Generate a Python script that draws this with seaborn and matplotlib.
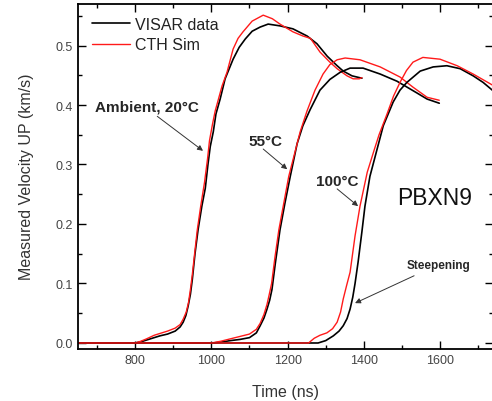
import matplotlib
matplotlib.use("Agg")
import pandas as pd
import seaborn as sns
from matplotlib import pyplot as plt
from matplotlib.ticker import MultipleLocator

# Ambient, 20C
visar_20_t = [650, 800, 815, 830, 850, 865, 885, 905, 918, 926, 933, 939, 945, 950, 957, 965, 975, 984, 991, 997,
              1005, 1012, 1023, 1036, 1057, 1073, 1089, 1107, 1128, 1149, 1180, 1214, 1251, 1277, 1304, 1330,
              1346, 1369, 1395]
visar_20_u = [0, 0, 0.002, 0.005, 0.009, 0.012, 0.015, 0.02, 0.027, 0.035, 0.046, 0.062, 0.082, 0.107, 0.15, 0.19,
              0.23, 0.26, 0.3, 0.33, 0.355, 0.385, 0.41, 0.444, 0.477, 0.497, 0.511, 0.524, 0.531, 0.536, 0.533,
              0.528, 0.516, 0.503, 0.482, 0.466, 0.457, 0.449, 0.445]
cth_20_t = [650, 800, 815, 830, 850, 865, 885, 905, 918, 926, 934, 940, 945, 950, 956, 963, 972, 982, 990, 995,
            1003, 1010, 1028, 1041, 1057, 1070, 1083, 1107, 1136, 1160, 1180, 1214, 1240, 1260, 1285, 1311,
            1330, 1356, 1372, 1388, 1395]
cth_20_u = [0, 0, 0.003, 0.007, 0.013, 0.016, 0.02, 0.025, 0.031, 0.04, 0.052, 0.068, 0.09, 0.115, 0.15, 0.19,
            0.23, 0.27, 0.31, 0.34, 0.368, 0.39, 0.432, 0.455, 0.494, 0.512, 0.523, 0.541, 0.551, 0.545, 0.536,
            0.523, 0.516, 0.512, 0.489, 0.472, 0.461, 0.449, 0.444, 0.444, 0.446]

# 55C
visar_55_t = [650, 1005, 1030, 1050, 1075, 1100, 1118, 1128, 1138, 1146, 1153, 1159, 1168, 1180, 1193, 1207,
              1225, 1240, 1259, 1285, 1311, 1338, 1364, 1398, 1443, 1487, 1540, 1566, 1598]
visar_55_u = [0, 0, 0.002, 0.004, 0.006, 0.009, 0.017, 0.029, 0.042, 0.057, 0.072, 0.09, 0.135, 0.19, 0.235,
              0.28, 0.335, 0.365, 0.392, 0.425, 0.443, 0.455, 0.462, 0.462, 0.452, 0.44, 0.42, 0.41, 0.403]
cth_55_t = [650, 1000, 1025, 1050, 1075, 1100, 1118, 1128, 1138, 1146, 1152, 1158, 1167, 1177, 1190, 1203,
            1215, 1233, 1251, 1272, 1293, 1311, 1330, 1351, 1390, 1443, 1495, 1529, 1566, 1598]
cth_55_u = [0, 0, 0.003, 0.007, 0.011, 0.015, 0.023, 0.033, 0.048, 0.065, 0.082, 0.1, 0.145, 0.19, 0.235,
            0.28, 0.31, 0.355, 0.39, 0.425, 0.452, 0.468, 0.476, 0.479, 0.476, 0.464, 0.447, 0.43, 0.413, 0.408]

# 100C
visar_100_t = [650, 1280, 1300, 1320, 1335, 1346, 1356, 1364, 1371, 1377, 1385, 1395, 1403, 1416, 1430, 1451,
               1477, 1495, 1513, 1548, 1582, 1618, 1653, 1687, 1713, 1739]
visar_100_u = [0, 0, 0.004, 0.012, 0.02, 0.029, 0.041, 0.057, 0.077, 0.1, 0.136, 0.187, 0.23, 0.28, 0.314,
               0.365, 0.405, 0.425, 0.438, 0.457, 0.464, 0.466, 0.461, 0.449, 0.438, 0.424]
cth_100_t = [650, 1255, 1270, 1285, 1303, 1318, 1330, 1339, 1346, 1355, 1364, 1377, 1390, 1409, 1428, 1440,
             1461, 1478, 1495, 1512, 1529, 1555, 1600, 1645, 1687, 1739]
cth_100_u = [0, 0, 0.008, 0.013, 0.017, 0.024, 0.035, 0.052, 0.074, 0.097, 0.119, 0.18, 0.23, 0.287, 0.326,
             0.35, 0.385, 0.415, 0.438, 0.458, 0.472, 0.48, 0.477, 0.466, 0.452, 0.433]


def plot_pair(ax, vt, vu, ct, cu, label):
    sns.lineplot(x=vt, y=vu, ax=ax, color="black", lw=1.2, sort=False, estimator=None,
                 label="VISAR data" if label else None)
    sns.lineplot(x=ct, y=cu, ax=ax, color="#ff1a1a", lw=1.0, sort=False, estimator=None,
                 label="CTH Sim" if label else None)


def main():
    sns.set_style("ticks")
    plt.rcParams["font.family"] = ["Liberation Sans", "DejaVu Sans"]

    fig = plt.figure(figsize=(4.92, 4.02), dpi=100)
    ax = fig.add_axes([78 / 492, 52 / 402, 415 / 492, 345.5 / 402])

    plot_pair(ax, visar_20_t, visar_20_u, cth_20_t, cth_20_u, True)
    plot_pair(ax, visar_55_t, visar_55_u, cth_55_t, cth_55_u, False)
    plot_pair(ax, visar_100_t, visar_100_u, cth_100_t, cth_100_u, False)

    ax.set_xlim(650, 1739)
    ax.set_ylim(-0.0101, 0.5706)
    ax.xaxis.set_major_locator(MultipleLocator(200))
    ax.xaxis.set_minor_locator(MultipleLocator(100))
    ax.yaxis.set_major_locator(MultipleLocator(0.1))
    ax.yaxis.set_minor_locator(MultipleLocator(0.05))
    ax.tick_params(which="both", direction="in", top=True, right=True, width=1.0,
                   labelsize=9, labelcolor="#444444", color="black")
    ax.tick_params(which="major", length=5.5)
    ax.tick_params(which="minor", length=3)
    for s in ax.spines.values():
        s.set_linewidth(1.3)
        s.set_color("black")

    ax.set_xlabel("Time (ns)", fontsize=11.5, color="#333333", labelpad=13)
    ax.set_ylabel("Measured Velocity UP (km/s)", fontsize=11.5, color="#333333", labelpad=16)

    ax.legend(loc="upper left", bbox_to_anchor=(0.034, 0.962), frameon=False, borderpad=0,
              borderaxespad=0, handlelength=2.4, handletextpad=0.3, labelspacing=0.35,
              prop={"size": 11.5}, labelcolor="#222222")

    arrow = dict(arrowstyle="-|>", color="#333333", lw=0.7, mutation_scale=8, shrinkA=0, shrinkB=0)
    ax.text(830, 0.397, "Ambient, 20°C", fontsize=11, fontweight="bold", ha="center", va="center")
    ax.annotate("", xy=(978, 0.323), xytext=(858, 0.381), arrowprops=arrow)
    ax.text(1142, 0.3395, "55°C", fontsize=11, fontweight="bold", ha="center", va="center")
    ax.annotate("", xy=(1199, 0.292), xytext=(1136, 0.326), arrowprops=arrow)
    ax.text(1331, 0.272, "100°C", fontsize=11, fontweight="bold", ha="center", va="center")
    ax.annotate("", xy=(1385, 0.230), xytext=(1330, 0.259), arrowprops=arrow)
    ax.text(1597, 0.131, "Steepening", fontsize=8.5, fontweight="bold", ha="center", va="center")
    ax.annotate("", xy=(1377, 0.067), xytext=(1532, 0.113), arrowprops=arrow)
    ax.text(1587, 0.245, "PBXN9", fontsize=16.5, ha="center", va="center", color="#111111")

    fig.savefig("out.png", dpi=100)


if __name__ == "__main__":
    main()
